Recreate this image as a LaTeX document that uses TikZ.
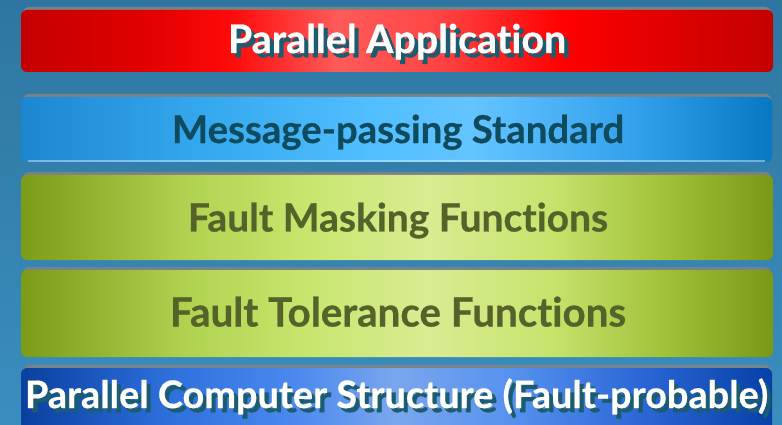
\documentclass[tikz,border=0pt]{standalone}
\usepackage{fontspec}
\setmainfont{Lato}[Ligatures={NoCommon,NoContextual}, BoldFeatures={FakeBold=0.6}]
\usetikzlibrary{shadings}

% colours of the layers
\definecolor{bgtop}{HTML}{2E76A1}
\definecolor{bgbot}{HTML}{3A8EBE}
\definecolor{rimgray}{HTML}{7A8288}
\definecolor{shadowteal}{HTML}{1B5C6E}
\definecolor{msgtext}{HTML}{0F4B5F}
\definecolor{fnctext}{HTML}{54632A}

% horizontal gradients; the box of 25bp..75bp is fitted to the path
\pgfdeclarehorizontalshading{redbar}{100bp}{%
  color(0bp)=(rgb,255:red,196;green,0;blue,0);
  color(25bp)=(rgb,255:red,196;green,0;blue,0);
  color(33.5bp)=(rgb,255:red,226;green,0;blue,0);
  color(39bp)=(rgb,255:red,255;green,10;blue,10);
  color(46bp)=(rgb,255:red,255;green,90;blue,90);
  color(52.5bp)=(rgb,255:red,255;green,70;blue,70);
  color(61bp)=(rgb,255:red,255;green,0;blue,0);
  color(67.5bp)=(rgb,255:red,226;green,0;blue,0);
  color(75bp)=(rgb,255:red,196;green,0;blue,0);
  color(100bp)=(rgb,255:red,196;green,0;blue,0)}
\pgfdeclarehorizontalshading{skybar}{100bp}{%
  color(0bp)=(rgb,255:red,30;green,134;blue,208);
  color(25bp)=(rgb,255:red,30;green,134;blue,208);
  color(37bp)=(rgb,255:red,52;green,168;blue,238);
  color(48bp)=(rgb,255:red,80;green,190;blue,255);
  color(55bp)=(rgb,255:red,100;green,196;blue,255);
  color(66bp)=(rgb,255:red,50;green,160;blue,236);
  color(75bp)=(rgb,255:red,8;green,120;blue,196);
  color(100bp)=(rgb,255:red,8;green,120;blue,196)}
\pgfdeclarehorizontalshading{limebar}{100bp}{%
  color(0bp)=(rgb,255:red,124;green,155;blue,24);
  color(25bp)=(rgb,255:red,124;green,155;blue,24);
  color(36bp)=(rgb,255:red,176;green,210;blue,80);
  color(44bp)=(rgb,255:red,200;green,230;blue,110);
  color(52bp)=(rgb,255:red,216;green,236;blue,146);
  color(60bp)=(rgb,255:red,200;green,228;blue,110);
  color(68bp)=(rgb,255:red,160;green,192;blue,56);
  color(75bp)=(rgb,255:red,122;green,152;blue,22);
  color(100bp)=(rgb,255:red,122;green,152;blue,22)}
\pgfdeclarehorizontalshading{navybar}{100bp}{%
  color(0bp)=(rgb,255:red,10;green,64;blue,160);
  color(25bp)=(rgb,255:red,10;green,64;blue,160);
  color(35bp)=(rgb,255:red,46;green,112;blue,220);
  color(43bp)=(rgb,255:red,74;green,136;blue,238);
  color(50bp)=(rgb,255:red,122;green,166;blue,238);
  color(58bp)=(rgb,255:red,84;green,144;blue,238);
  color(67bp)=(rgb,255:red,40;green,100;blue,210);
  color(75bp)=(rgb,255:red,6;green,64;blue,168);
  color(100bp)=(rgb,255:red,6;green,64;blue,168)}

\tikzset{
  layer/.style={rounded corners=6pt},
  rim/.style={fill=rimgray, rounded corners=6pt},
  lbl/.style={anchor=base, inner sep=0pt, font=\bfseries},
}
% scale a label to a given width
\newcommand{\fitwidth}[2]{\resizebox{#1}{!}{#2}}
% white lettering with a dark drop shadow
\newcommand{\dropshadowed}[1]{%
  \leavevmode\rlap{\hspace{1.1pt}\raisebox{-1.1pt}{\color{shadowteal}#1}}%
  {\color{white}#1}}

\begin{document}
\begin{tikzpicture}[x=1pt, y=-1pt]
  \useasboundingbox (0,0) rectangle (782,425);
  \clip (0,0) rectangle (782,425);
  \shade[top color=bgtop, bottom color=bgbot] (0,0) rectangle (782,425);

  % gray rims peeking above each layer
  \fill[rim] (23,7)   rectangle (771,40);
  \fill[rim] (23,94)  rectangle (771,130);
  \fill[rim] (23,172) rectangle (771,210);
  \fill[rim] (23,267) rectangle (771,300);
  \fill[rim] (23,365) rectangle (771,400);

  % the layers
  \shade[layer, shading=redbar]  (21,10)  rectangle (773,72)  coordinate (app);
  \shade[layer, shading=skybar]  (21,97)  rectangle (772,162) coordinate (msg);
  \fill[white, opacity=0.4] (28,160.5) rectangle (765,162);
  \shade[layer, shading=limebar] (21,175) rectangle (773,260) coordinate (fm);
  \shade[layer, shading=limebar] (21,270) rectangle (773,357) coordinate (ft);
  \shade[layer, shading=navybar] (21,368) rectangle (772,440) coordinate (pc);

  % labels
  \node[lbl]                  (appT) at (397,53)   {\fitwidth{338pt}{\dropshadowed{Parallel Application}}};
  \node[lbl, text=msgtext]    (msgT) at (398,143)  {\fitwidth{452pt}{Message-passing Standard}};
  \node[lbl, text=fnctext]    (fmT)  at (398,231.5){\fitwidth{420pt}{Fault Masking Functions}};
  \node[lbl, text=fnctext]    (ftT)  at (398,326.5){\fitwidth{456pt}{Fault Tolerance Functions}};
  \node[lbl]                  (pcT)  at (396.5,408){\fitwidth{743pt}{\dropshadowed{Parallel Computer Structure (Fault-probable)}}};
\end{tikzpicture}
\end{document}
